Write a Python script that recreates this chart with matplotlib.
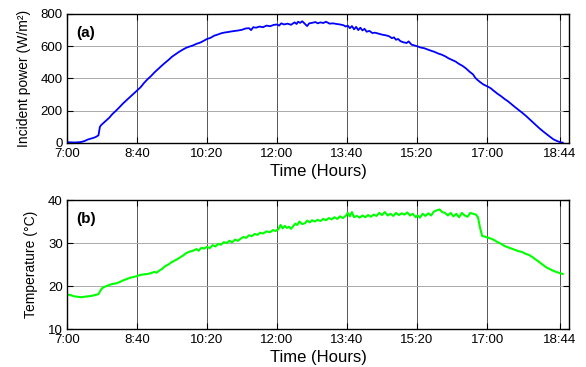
import matplotlib
matplotlib.use("Agg")
import matplotlib.pyplot as plt

plt.rcParams['font.family'] = ['Liberation Sans', 'DejaVu Sans']

tick_minutes = [420, 520, 620, 720, 820, 920, 1020, 1124]
tick_labels = ["7:00", "8:40", "10:20", "12:00", "13:40", "15:20", "17:00", "18:44"]

power_t = [420, 425, 430, 435, 440, 445, 450, 455, 460, 463, 465, 467, 469, 475, 480, 485, 490, 495, 500,
           505, 510, 515, 520, 525, 530, 535, 540, 545, 550, 555, 560, 565, 570, 575, 580, 585, 590, 595,
           600, 605, 610, 615, 620, 625, 630, 635, 640, 645, 650, 655, 660, 665, 670, 675, 680, 683, 686,
           690, 695, 700, 705, 710, 715, 720, 723, 726, 730, 735, 740, 745, 748, 750, 753, 756, 760, 763,
           766, 770, 775, 778, 782, 786, 790, 795, 800, 805, 810, 815, 818, 821, 824, 827, 830, 833, 836,
           839, 842, 845, 848, 852, 856, 860, 865, 870, 875, 880, 884, 887, 890, 893, 896, 900, 905, 908,
           912, 916, 920, 925, 930, 935, 940, 945, 950, 955, 960, 965, 970, 975, 980, 985, 990, 995, 1000,
           1003, 1006, 1010, 1015, 1020, 1025, 1030, 1035, 1040, 1045, 1050, 1055, 1060, 1065, 1070, 1075,
           1080, 1085, 1090, 1095, 1100, 1105, 1110, 1115, 1120, 1125, 1128]
power_w = [5, 4, 3, 4, 6, 12, 22, 28, 35, 42, 48, 100, 112, 135, 155, 180, 200, 222, 245,
           265, 285, 305, 325, 345, 372, 395, 415, 438, 458, 478, 497, 515, 535, 550, 565, 578, 590, 598,
           605, 615, 622, 633, 645, 652, 665, 672, 680, 685, 688, 692, 695, 698, 702, 710, 712, 700, 718,
           715, 722, 718, 728, 724, 732, 735, 728, 742, 735, 740, 733, 748, 738, 752, 745, 755, 738, 725,
           742, 745, 750, 742, 748, 744, 752, 740, 742, 738, 735, 730, 722, 728, 712, 725, 705, 720, 700,
           715, 698, 708, 690, 695, 682, 684, 678, 672, 668, 662, 650, 655, 640, 645, 632, 625, 620, 630,
           610, 605, 600, 592, 588, 580, 572, 565, 555, 548, 538, 525, 515, 505, 490, 478, 462, 442, 425,
           405, 392, 378, 362, 352, 340, 322, 305, 290, 273, 258, 240, 222, 205, 188, 170,
           150, 130, 110, 90, 72, 55, 38, 22, 12, 4, 2]

temp_t = [420, 425, 430, 435, 440, 445, 450, 455, 460, 465, 468, 471, 475, 480, 485, 490, 495, 500, 505,
          510, 515, 520, 525, 530, 535, 540, 545, 548, 552, 556, 560, 565, 570, 575, 580, 585, 590, 595,
          600, 605, 608, 612, 616, 620, 624, 628, 632, 636, 640, 644, 648, 652, 656, 660, 664, 668, 672,
          676, 680, 684, 688, 692, 696, 700, 705, 710, 714, 718, 722, 725, 728, 731, 734, 737, 740, 743,
          746, 749, 752, 756, 760, 763, 767, 770, 774, 778, 782, 786, 790, 794, 798, 802, 806, 810, 814,
          818, 821, 824, 827, 830, 834, 838, 842, 846, 850, 854, 858, 862, 866, 870, 874, 878, 882, 886,
          890, 894, 898, 902, 906, 910, 914, 918, 921, 924, 928, 932, 936, 940, 944, 948, 952, 956, 960,
          964, 968, 972, 976, 980, 984, 988, 992, 996, 1000, 1004, 1007, 1010, 1013, 1017, 1022, 1026,
          1030, 1035, 1040, 1045, 1050, 1055, 1060, 1065, 1070, 1075, 1080, 1085, 1090, 1095, 1100, 1105,
          1110, 1115, 1120, 1128]
temp_c = [18.0, 17.9, 17.6, 17.5, 17.4, 17.5, 17.6, 17.7, 17.9, 18.1, 19.0, 19.6, 19.9, 20.2, 20.5, 20.6,
          20.9, 21.3, 21.6, 21.9, 22.1, 22.3, 22.6, 22.7, 22.8, 23.0, 23.3, 23.1, 23.6, 24.0, 24.6, 25.0,
          25.6, 26.0, 26.5, 27.0, 27.6, 28.0, 28.2, 28.6, 28.2, 28.9, 28.7, 29.1, 28.8, 29.5, 29.2, 29.8,
          29.6, 30.2, 30.0, 30.5, 30.2, 30.8, 30.5, 31.0, 31.4, 31.2, 31.8, 31.6, 32.1, 31.9, 32.4, 32.2,
          32.7, 32.5, 33.0, 32.8, 33.2, 34.2, 33.4, 34.0, 33.5, 33.8, 33.3, 33.9, 34.5, 34.2, 35.0, 34.4,
          34.6, 35.2, 34.8, 35.3, 35.0, 35.4, 35.1, 35.6, 35.3, 35.8, 35.5, 36.0, 35.6, 36.2, 35.8, 36.3,
          37.0, 36.2, 37.2, 36.0, 36.3, 35.9, 36.4, 36.0, 36.5, 36.1, 36.6, 36.3, 37.0, 36.5, 37.2, 36.4,
          36.8, 36.3, 37.0, 36.5, 36.9, 36.6, 37.1, 36.4, 36.8, 36.0, 36.4, 35.9, 36.8, 36.3, 36.9, 36.4,
          37.3, 37.6, 37.8, 37.2, 37.0, 36.4, 37.0, 36.2, 36.8, 36.0, 37.0, 36.4, 36.1, 37.0, 36.8, 36.6,
          36.0, 33.5, 31.6, 31.5, 31.2, 31.0, 30.7, 30.2, 29.8, 29.3, 29.0, 28.7, 28.4, 28.1, 27.9, 27.5,
          27.2, 26.7, 26.1, 25.5, 24.9, 24.3, 23.9, 23.5, 23.2, 22.8]

fig = plt.figure(figsize=(5.86, 3.67), dpi=100)
ax1 = fig.add_axes([0.1143, 0.6104, 0.8567, 0.3515])
ax2 = fig.add_axes([0.1143, 0.1035, 0.8567, 0.3515])


def style(ax, yticks, ylabel, tag):
    ax.set_xlim(420, 1137)
    ax.set_xticks(tick_minutes)
    ax.set_xticklabels(tick_labels)
    ax.set_yticks(yticks)
    ax.set_ylim(yticks[0], yticks[-1])
    ax.tick_params(direction='in', top=True, right=True, length=4, width=0.8,
                   labelsize=9.5, colors='black')
    ax.tick_params(axis='x', pad=3.5)
    ax.tick_params(axis='y', pad=3)
    for s in ax.spines.values():
        s.set_linewidth(1.0)
        s.set_color('black')
    ax.xaxis.grid(True, color='#555555', linewidth=0.7)
    ax.yaxis.grid(True, color='#aaaaaa', linewidth=0.7)
    ax.set_axisbelow(True)
    ax.set_xlabel("Time (Hours)", fontsize=12, labelpad=3)
    ax.set_ylabel(ylabel, fontsize=10, labelpad=7)
    ax.text(0.018, 0.85, tag, transform=ax.transAxes, fontsize=11, fontweight='bold',
            va='center', ha='left')


ax1.plot(power_t, power_w, color='#0000ff', linewidth=1.3)
style(ax1, [0, 200, 400, 600, 800], "Incident power (W/m²)", "(a)")

ax2.plot(temp_t, temp_c, color='#00ff00', linewidth=1.5)
style(ax2, [10, 20, 30, 40], "Temperature (°C)", "(b)")

fig.savefig("out.png", dpi=100)
